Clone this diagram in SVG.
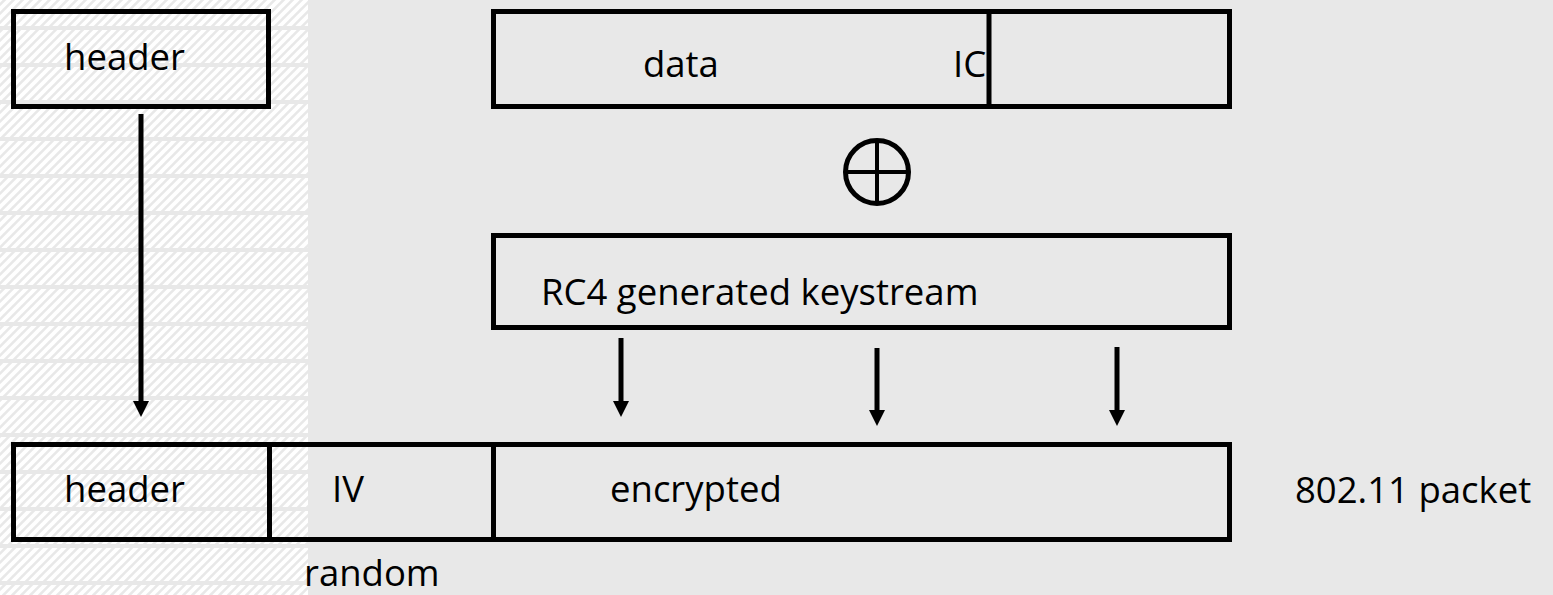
<svg xmlns="http://www.w3.org/2000/svg" width="1553" height="595" viewBox="0 0 1553 595">
  <defs>
    <style>
      .box { fill: none; stroke: #000; stroke-width: 5; }
      .div { stroke: #000; stroke-width: 5; }
      .lbl { font-family: "Open Sans", "Liberation Sans", sans-serif; font-size: 36.5px; fill: #000; }
      .arrow { stroke: #000; stroke-width: 5; fill: none; }
      .head { fill: #000; }
    </style>
    <!-- diagonal white hatch for the left strip -->
    <pattern id="hatch" patternUnits="userSpaceOnUse" width="9" height="9">
      <rect width="9" height="9" fill="#e8e8e8"/>
      <path d="M-2,11 L11,-2 M-6.5,6.5 L6.5,-6.5 M2.5,15.5 L15.5,2.5" stroke="#ffffff" stroke-width="3.8"/>
    </pattern>
    <!-- horizontal breaks between hatch rows -->
    <pattern id="bands" patternUnits="userSpaceOnUse" width="37" height="37" y="26">
      <rect x="0" y="0" width="37" height="4" fill="#e8e8e8"/>
    </pattern>
  </defs>

  <!-- background -->
  <rect x="0" y="0" width="1553" height="595" fill="#e8e8e8"/>
  <rect x="0" y="0" width="308" height="595" fill="url(#hatch)"/>
  <rect x="0" y="0" width="308" height="595" fill="url(#bands)"/>

  <!-- header of the plaintext frame -->
  <g id="header-top">
    <rect class="box" x="13.5" y="11.5" width="255" height="95"/>
    <text class="lbl" x="64" y="70">header</text>
  </g>

  <!-- data + integrity check -->
  <g id="data-ic">
    <rect class="box" x="493.5" y="11.5" width="736" height="95"/>
    <line class="div" x1="989" y1="11.5" x2="989" y2="106.5"/>
    <text class="lbl" x="643" y="77">data</text>
    <text class="lbl" x="953" y="77">IC</text>
  </g>

  <!-- XOR operator -->
  <g id="xor">
    <circle cx="877" cy="172" r="31.5" fill="none" stroke="#000" stroke-width="5"/>
    <line x1="845.5" y1="172" x2="908.5" y2="172" stroke="#000" stroke-width="4"/>
    <line x1="877" y1="140.5" x2="877" y2="203.5" stroke="#000" stroke-width="4"/>
  </g>

  <!-- keystream -->
  <g id="keystream">
    <rect class="box" x="493.5" y="235.5" width="736" height="92"/>
    <text class="lbl" x="541" y="305">RC4 generated keystream</text>
  </g>

  <!-- transmitted 802.11 packet -->
  <g id="packet">
    <rect class="box" x="13.5" y="444.5" width="1216" height="95"/>
    <line class="div" x1="269.5" y1="444.5" x2="269.5" y2="539.5"/>
    <line class="div" x1="493.5" y1="444.5" x2="493.5" y2="539.5"/>
    <text class="lbl" x="64" y="502">header</text>
    <text class="lbl" x="332" y="502">IV</text>
    <text class="lbl" x="610" y="502">encrypted</text>
  </g>

  <g id="packet-label">
    <text class="lbl" x="1295" y="503">802.11 packet</text>
  </g>

  <g id="random-label">
    <text class="lbl" x="304" y="586">random</text>
  </g>

  <!-- connectors -->
  <g id="connectors">
    <line class="arrow" x1="141" y1="114" x2="141" y2="403"/>
    <polygon class="head" points="133,401 149,401 141,417"/>

    <line class="arrow" x1="621" y1="338" x2="621" y2="403"/>
    <polygon class="head" points="613,401 629,401 621,417"/>

    <line class="arrow" x1="877" y1="348" x2="877" y2="412"/>
    <polygon class="head" points="869,410 885,410 877,426"/>

    <line class="arrow" x1="1117" y1="347" x2="1117" y2="412"/>
    <polygon class="head" points="1109,410 1125,410 1117,426"/>
  </g>
</svg>
